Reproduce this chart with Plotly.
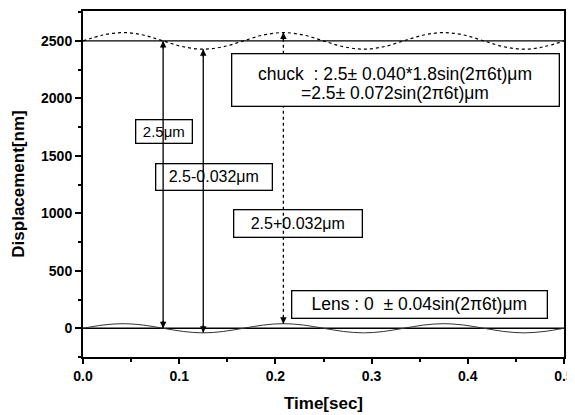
import plotly.graph_objects as go

# ---- data ----
time_s = [0.0, 0.0208, 0.0417, 0.0625, 0.0833, 0.1042, 0.125, 0.1458,
          0.1667, 0.1875, 0.2083, 0.2292, 0.25, 0.2708, 0.2917, 0.3125,
          0.3333, 0.3542, 0.375, 0.3958, 0.4167, 0.4375, 0.4583, 0.4792, 0.5]
chuck_nm = [2500, 2551, 2572, 2551, 2500, 2449, 2428, 2449,
            2500, 2551, 2572, 2551, 2500, 2449, 2428, 2449,
            2500, 2551, 2572, 2551, 2500, 2449, 2428, 2449, 2500]
lens_nm = [0, 28, 40, 28, 0, -28, -40, -28,
           0, 28, 40, 28, 0, -28, -40, -28,
           0, 28, 40, 28, 0, -28, -40, -28, 0]
ref_levels_nm = [2500, 0]
time_span = [0.0, 0.5]

arrow_t = [0.0833, 0.125, 0.2083]
arrow_low = [0, -40, 40]
arrow_high = [2500, 2428, 2572]
arrow_dash = ["solid", "solid", "dot"]
arrow_labels = ["2.5\u03bcm", "2.5-0.032\u03bcm", "2.5+0.032\u03bcm"]

chuck_lines = ["chuck  : 2.5\u00b1 0.040*1.8sin(2\u03c06t)\u03bcm",
               "=2.5\u00b1 0.072sin(2\u03c06t)\u03bcm"]
lens_text = "Lens : 0  \u00b1 0.04sin(2\u03c06t)\u03bcm"

x_ticks = [0.0, 0.1, 0.2, 0.3, 0.4, 0.5]
y_ticks = [0, 500, 1000, 1500, 2000, 2500]

FONT = "Liberation Sans, Arial, sans-serif"

fig = go.Figure()

# reference flat lines
for lvl in ref_levels_nm:
    fig.add_trace(go.Scatter(x=time_span, y=[lvl, lvl], mode="lines",
                             line=dict(color="black", width=1.3),
                             showlegend=False, hoverinfo="skip"))

# chuck (dotted) and lens (solid) oscillations
fig.add_trace(go.Scatter(x=time_s, y=chuck_nm, mode="lines",
                         line=dict(color="black", width=1.2, dash="dot", shape="spline"),
                         showlegend=False))
fig.add_trace(go.Scatter(x=time_s, y=lens_nm, mode="lines",
                         line=dict(color="#333333", width=1.0, shape="spline"),
                         showlegend=False))

# vertical measurement lines
for t, lo, hi, d in zip(arrow_t, arrow_low, arrow_high, arrow_dash):
    fig.add_trace(go.Scatter(x=[t, t], y=[lo, hi], mode="lines",
                             line=dict(color="black", width=1.3, dash=d),
                             showlegend=False, hoverinfo="skip"))

annotations = []
for t, lo, hi in zip(arrow_t, arrow_low, arrow_high):
    annotations.append(dict(x=t, y=hi, xref="x", yref="y", ax=0, ay=9,
                            showarrow=True, arrowhead=2, arrowsize=1, arrowwidth=1.3,
                            arrowcolor="black", text=""))
    annotations.append(dict(x=t, y=lo, xref="x", yref="y", ax=0, ay=-9,
                            showarrow=True, arrowhead=2, arrowsize=1,
                            arrowwidth=1.3, arrowcolor="black", text=""))

C = dict(xanchor="center", yanchor="middle")

# label boxes (paper positions, sizes in px, font size)
label_pos = [(0.168, 0.651, 55, 22, 15), (0.272, 0.519, 115, 25, 16), (0.447, 0.385, 127, 26, 16)]
for lab, (px, py, w, h, fs) in zip(arrow_labels, label_pos):
    annotations.append(dict(x=px, y=py, xref="paper", yref="paper", text=lab,
                            showarrow=False, width=w, height=h, borderpad=0,
                            font=dict(family=FONT, size=fs, color="black"),
                            bordercolor="black", borderwidth=1.3,
                            bgcolor="rgba(0,0,0,0)", **C))

# chuck box
annotations.append(dict(x=0.649, y=0.800, xref="paper", yref="paper", text="",
                        showarrow=False, width=326, height=51, borderpad=0,
                        bordercolor="black", borderwidth=1.3, bgcolor="white", **C))
for txt, py in zip(chuck_lines, [0.819, 0.762]):
    annotations.append(dict(x=0.649, y=py, xref="paper", yref="paper", text=txt,
                            showarrow=False, font=dict(family=FONT, size=17.5, color="black"), **C))

# lens box
annotations.append(dict(x=0.699, y=0.152, xref="paper", yref="paper", text=lens_text,
                        showarrow=False, width=254, height=26, borderpad=0,
                        font=dict(family=FONT, size=17.5, color="black"),
                        bordercolor="black", borderwidth=1.3, bgcolor="white", **C))

fig.update_layout(
    width=567, height=407,
    margin=dict(l=75, r=10, t=1, b=58),
    paper_bgcolor="white", plot_bgcolor="white",
    font=dict(family=FONT, color="black"),
    annotations=annotations,
    xaxis=dict(range=[0, 0.5], tickvals=x_ticks, ticktext=[f"{v:.1f}" for v in x_ticks],
               showline=True, linecolor="black", linewidth=2, mirror=True,
               ticks="outside", ticklen=5, tickwidth=1.5, tickcolor="black",
               minor=dict(ticks="outside", ticklen=3, tickwidth=1.5, dtick=0.05, tickcolor="black"),
               showgrid=False, zeroline=False,
               tickfont=dict(family=FONT, size=14, color="black", weight="bold"),
               title=dict(text="Time[sec]", font=dict(family=FONT, size=17, color="black", weight="bold"),
                          standoff=14)),
    yaxis=dict(range=[-250, 2760], tickvals=y_ticks, ticktext=[str(v) for v in y_ticks],
               showline=True, linecolor="black", linewidth=2, mirror=True,
               ticks="outside", ticklen=6, tickwidth=1.5, tickcolor="black",
               minor=dict(ticks="outside", ticklen=3, tickwidth=1.5, dtick=250, tickcolor="black"),
               showgrid=False, zeroline=False,
               tickfont=dict(family=FONT, size=14, color="black", weight="bold"),
               title=dict(text="Displacement[nm]", font=dict(family=FONT, size=17, color="black", weight="bold"),
                          standoff=12)),
)

fig.write_html("out.html")
